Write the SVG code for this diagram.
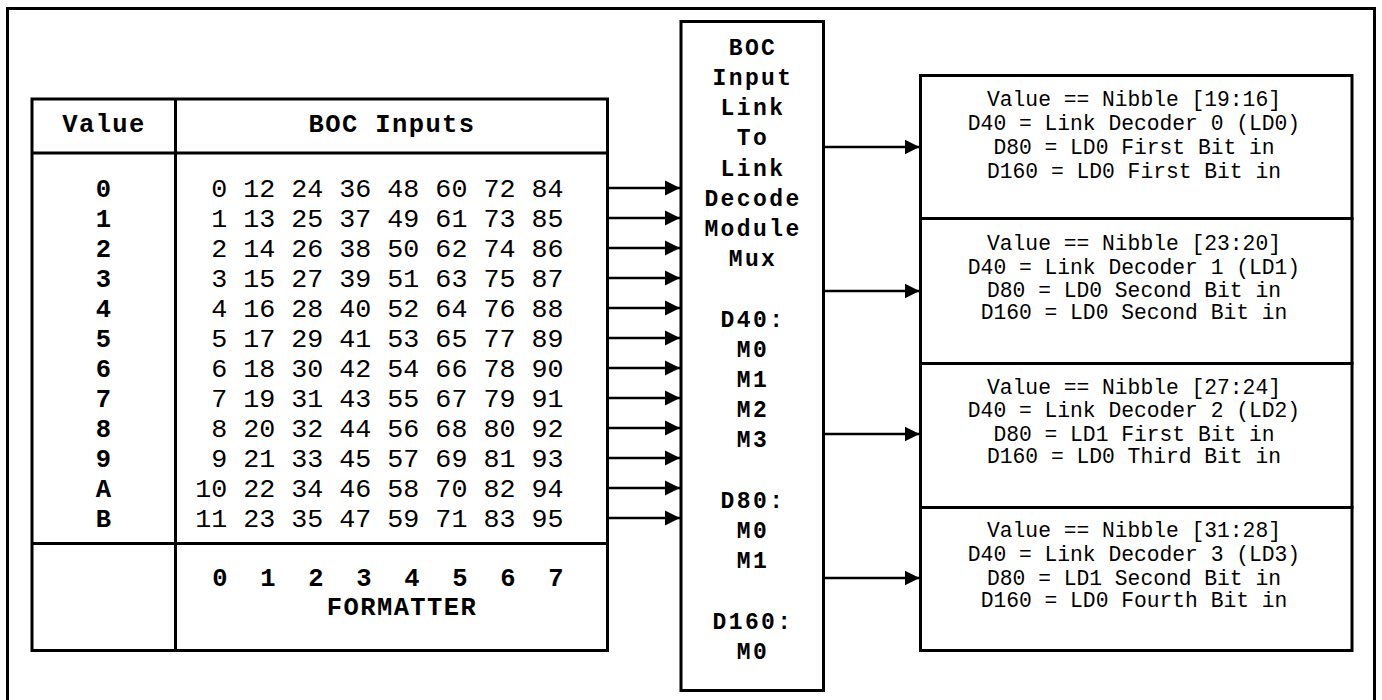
<svg xmlns="http://www.w3.org/2000/svg" width="1382" height="700" viewBox="0 0 1382 700">
<style>
.box{fill:#fff;stroke:#000;stroke-width:3}
.ln{fill:none;stroke:#000;stroke-width:3}
.con{fill:none;stroke:#000;stroke-width:2.5}
.b{font-family:"Liberation Mono","Courier New",monospace;font-weight:bold;font-size:25.5px;letter-spacing:1.4px;fill:#000}
.bc{font-family:"Liberation Mono","Courier New",monospace;font-weight:bold;font-size:23px;letter-spacing:2.4px;fill:#000;text-anchor:middle}
.r{font-family:"Liberation Mono","Courier New",monospace;font-size:26.7px;fill:#000}
.s{font-family:"Liberation Mono","Courier New",monospace;font-size:21.3px;fill:#000;text-anchor:middle}
.m{text-anchor:middle}
</style>
<defs>
<marker id="ah" markerUnits="userSpaceOnUse" markerWidth="16" markerHeight="16" viewBox="0 0 16 16" refX="15" refY="8" orient="auto">
<path d="M0,0.5 L15,8 L0,15.5 Z" fill="#000"/>
</marker>
</defs>
<rect width="1382" height="700" fill="#fff"/>
<rect id="frame" x="7.5" y="8.5" width="1367" height="720" class="box"/>

<g id="table">
<rect x="32" y="99" width="575.5" height="551.5" class="box"/>
<line x1="175.5" y1="99" x2="175.5" y2="650.5" class="ln"/>
<line x1="32" y1="153" x2="607.5" y2="153" class="ln"/>
<line x1="32" y1="543.5" x2="607.5" y2="543.5" class="ln"/>
<text x="104" y="131.7" class="b m">Value</text>
<text x="392" y="131.7" class="b m">BOC Inputs</text>
<g class="b m">
<text x="104" y="196.5">0</text>
<text x="104" y="226.5">1</text>
<text x="104" y="256.5">2</text>
<text x="104" y="286.5">3</text>
<text x="104" y="316.5">4</text>
<text x="104" y="346.5">5</text>
<text x="104" y="376.5">6</text>
<text x="104" y="406.5">7</text>
<text x="104" y="436.5">8</text>
<text x="104" y="466.5">9</text>
<text x="104" y="496.5">A</text>
<text x="104" y="526.5">B</text>
</g>
<g class="r" text-anchor="end">
<text x="563.5" y="196.5">0 12 24 36 48 60 72 84</text>
<text x="563.5" y="226.5">1 13 25 37 49 61 73 85</text>
<text x="563.5" y="256.5">2 14 26 38 50 62 74 86</text>
<text x="563.5" y="286.5">3 15 27 39 51 63 75 87</text>
<text x="563.5" y="316.5">4 16 28 40 52 64 76 88</text>
<text x="563.5" y="346.5">5 17 29 41 53 65 77 89</text>
<text x="563.5" y="376.5">6 18 30 42 54 66 78 90</text>
<text x="563.5" y="406.5">7 19 31 43 55 67 79 91</text>
<text x="563.5" y="436.5">8 20 32 44 56 68 80 92</text>
<text x="563.5" y="466.5">9 21 33 45 57 69 81 93</text>
<text x="563.5" y="496.5">10 22 34 46 58 70 82 94</text>
<text x="563.5" y="526.5">11 23 35 47 59 71 83 95</text>
</g>
<text x="220 268 316 364 412 460 508 556" y="586" class="b m" style="letter-spacing:0">01234567</text>
<text x="402" y="615" class="b m">FORMATTER</text>
</g>

<g id="mux">
<rect x="681" y="21.5" width="142.5" height="669" class="box"/>
<text class="bc" x="753" y="54.7">BOC</text>
<text class="bc" x="753" y="84.9">Input</text>
<text class="bc" x="753" y="115.1">Link</text>
<text class="bc" x="753" y="145.3">To</text>
<text class="bc" x="753" y="175.5">Link</text>
<text class="bc" x="753" y="205.7">Decode</text>
<text class="bc" x="753" y="235.9">Module</text>
<text class="bc" x="753" y="266.1">Mux</text>
<text class="bc" x="753" y="326.5">D40:</text>
<text class="bc" x="753" y="356.7">M0</text>
<text class="bc" x="753" y="386.9">M1</text>
<text class="bc" x="753" y="417.1">M2</text>
<text class="bc" x="753" y="447.3">M3</text>
<text class="bc" x="753" y="507.7">D80:</text>
<text class="bc" x="753" y="537.9">M0</text>
<text class="bc" x="753" y="568.1">M1</text>
<text class="bc" x="753" y="628.5">D160:</text>
<text class="bc" x="753" y="658.7">M0</text>
</g>

<g id="ld0">
<rect x="920.5" y="75.5" width="431.5" height="143" class="box"/>
<text class="s" x="1134" y="106">Value == Nibble [19:16]</text>
<text class="s" x="1134" y="130">D40 = Link Decoder 0 (LD0)</text>
<text class="s" x="1134" y="154">D80 = LD0 First Bit in</text>
<text class="s" x="1134" y="177.5">D160 = LD0 First Bit in</text>
</g>
<g id="ld1">
<rect x="920.5" y="218.5" width="431.5" height="145" class="box"/>
<text class="s" x="1134" y="250">Value == Nibble [23:20]</text>
<text class="s" x="1134" y="273.5">D40 = Link Decoder 1 (LD1)</text>
<text class="s" x="1134" y="297">D80 = LD0 Second Bit in</text>
<text class="s" x="1134" y="319">D160 = LD0 Second Bit in</text>
</g>
<g id="ld2">
<rect x="920.5" y="363.5" width="431.5" height="144" class="box"/>
<text class="s" x="1134" y="393.5">Value == Nibble [27:24]</text>
<text class="s" x="1134" y="417">D40 = Link Decoder 2 (LD2)</text>
<text class="s" x="1134" y="441">D80 = LD1 First Bit in</text>
<text class="s" x="1134" y="463">D160 = LD0 Third Bit in</text>
</g>
<g id="ld3">
<rect x="920.5" y="507.5" width="431.5" height="143" class="box"/>
<text class="s" x="1134" y="537">Value == Nibble [31:28]</text>
<text class="s" x="1134" y="561">D40 = Link Decoder 3 (LD3)</text>
<text class="s" x="1134" y="584.5">D80 = LD1 Second Bit in</text>
<text class="s" x="1134" y="607">D160 = LD0 Fourth Bit in</text>
</g>

<g id="connectors" class="con" marker-end="url(#ah)">
<line x1="609" y1="188" x2="680" y2="188"/>
<line x1="609" y1="218" x2="680" y2="218"/>
<line x1="609" y1="248" x2="680" y2="248"/>
<line x1="609" y1="278" x2="680" y2="278"/>
<line x1="609" y1="308" x2="680" y2="308"/>
<line x1="609" y1="338" x2="680" y2="338"/>
<line x1="609" y1="368" x2="680" y2="368"/>
<line x1="609" y1="398" x2="680" y2="398"/>
<line x1="609" y1="428" x2="680" y2="428"/>
<line x1="609" y1="458" x2="680" y2="458"/>
<line x1="609" y1="488" x2="680" y2="488"/>
<line x1="609" y1="518" x2="680" y2="518"/>
<line x1="825" y1="147" x2="919.5" y2="147"/>
<line x1="825" y1="291" x2="919.5" y2="291"/>
<line x1="825" y1="434" x2="919.5" y2="434"/>
<line x1="825" y1="578" x2="919.5" y2="578"/>
</g>
</svg>
